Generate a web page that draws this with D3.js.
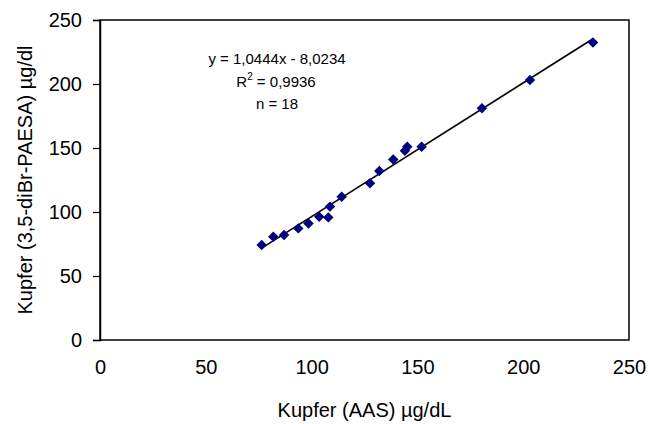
<!DOCTYPE html>
<html>
<head>
<meta charset="utf-8">
<script src="https://cdn.jsdelivr.net/npm/d3@7"></script>
<style>
  body { margin: 0; background: #fff; }
  text { font-family: Arial, "Liberation Sans", sans-serif; fill: #000; }
</style>
</head>
<body>
<svg id="chart" width="648" height="424"></svg>
<script>
// values
const aas = [76.4, 81.9, 87, 93.7, 98.5, 103.6, 107.9, 108.7, 114.2, 127.6, 132, 138.6, 144.1, 145.2, 152, 180.5, 203.2, 233];
const paesa = [74.2, 80.7, 82, 87.2, 91.1, 96.3, 95.8, 104.2, 112, 122.4, 132, 141, 147.9, 151, 151, 181, 203.1, 232.5];
const xTicks = [0, 50, 100, 150, 200, 250];
const yTicks = [0, 50, 100, 150, 200, 250];
const slope = 1.0444;
const intercept = -8.0234;
const eqLines = ['y = 1,0444x - 8,0234', 'R² = 0,9936', 'n = 18'];

const svg = d3.select('#chart');
const margin = {left: 100, right: 19, top: 20, bottom: 84};
const W = 648, H = 424;

const x = d3.scaleLinear().domain([0, 250]).range([margin.left, W - margin.right]);
const y = d3.scaleLinear().domain([0, 250]).range([H - margin.bottom, margin.top]);

// plot frame
svg.append('rect')
  .attr('x', x(0)).attr('y', y(250))
  .attr('width', x(250) - x(0)).attr('height', y(0) - y(250))
  .attr('fill', 'none').attr('stroke', '#000').attr('stroke-width', 1.5);

// y axis with outer ticks
const yAxis = svg.append('g')
  .attr('transform', `translate(${x(0)},0)`)
  .call(d3.axisLeft(y).tickValues(yTicks).tickSize(7).tickPadding(11).tickFormat(d3.format('d')));
yAxis.select('.domain').attr('stroke-width', 1.5);
yAxis.selectAll('.tick line').attr('stroke-width', 1.2);
yAxis.selectAll('text').style('font-size', '20px');

// x axis, labels only
const xAxis = svg.append('g')
  .attr('transform', `translate(0,${y(0)})`)
  .call(d3.axisBottom(x).tickValues(xTicks).tickSize(0).tickPadding(20).tickFormat(d3.format('d')));
xAxis.select('.domain').remove();
xAxis.selectAll('text').style('font-size', '20px');

// axis titles
svg.append('text')
  .attr('x', (x(0) + x(250)) / 2).attr('y', 417)
  .attr('text-anchor', 'middle').style('font-size', '20px')
  .text('Kupfer (AAS) µg/dL');
svg.append('text')
  .attr('transform', `translate(25,${(y(0) + y(250)) / 2}) rotate(-90)`)
  .attr('text-anchor', 'middle').attr('dominant-baseline', 'central').style('font-size', '20px')
  .text('Kupfer (3,5-diBr-PAESA) µg/dl');

// linear trend line over the data range
const xMin = d3.min(aas), xMax = d3.max(aas);
svg.append('line')
  .attr('x1', x(xMin)).attr('y1', y(slope * xMin + intercept))
  .attr('x2', x(xMax)).attr('y2', y(slope * xMax + intercept))
  .attr('stroke', '#000').attr('stroke-width', 1.6);

// diamonds
const pts = aas.map((v, i) => ({x: v, y: paesa[i]}));
svg.append('g').selectAll('path')
  .data(pts)
  .join('path')
  .attr('transform', d => `translate(${x(d.x)},${y(d.y)})`)
  .attr('d', d3.symbol(d3.symbolDiamond2, 70)())
  .attr('fill', '#000080');

// regression text
const eq = svg.append('g').style('font-size', '15px').attr('text-anchor', 'middle');
eq.append('text').attr('x', 277).attr('y', 64).text(eqLines[0]);
const r2 = eq.append('text').attr('x', 276).attr('y', 87);
r2.append('tspan').text('R');
r2.append('tspan').attr('dy', -7).style('font-size', '10px').text('2');
r2.append('tspan').attr('dy', 7).text(' = 0,9936');
eq.append('text').attr('x', 277).attr('y', 109).text(eqLines[2]);
</script>
</body>
</html>
